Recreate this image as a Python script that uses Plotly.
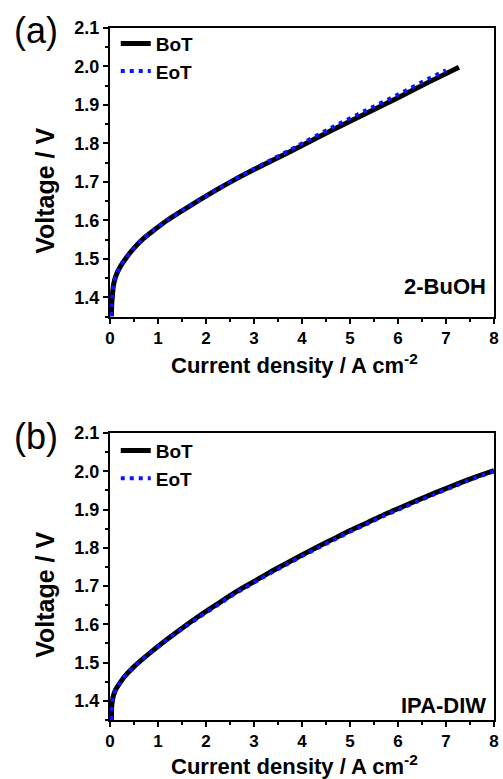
import plotly.graph_objects as go

# Panel (a) 2-BuOH
a_bot_x = [0.03, 0.035, 0.05, 0.07, 0.12, 0.21, 0.35, 0.5, 0.7, 0.9, 1.2, 1.5, 1.85, 2.2, 2.6, 3.0, 3.4, 3.9, 4.6, 5.3, 6.0, 6.65, 7.27]
a_bot_v = [1.35, 1.38, 1.405, 1.43, 1.455, 1.479, 1.505, 1.528, 1.553, 1.573, 1.601, 1.625, 1.652, 1.678, 1.706, 1.732, 1.757, 1.788, 1.833, 1.876, 1.919, 1.960, 1.998]
a_eot_x = [0.03, 0.035, 0.05, 0.07, 0.12, 0.21, 0.35, 0.5, 0.7, 0.9, 1.2, 1.5, 1.85, 2.2, 2.6, 3.0, 3.4, 3.9, 4.6, 5.3, 6.0, 6.65, 7.0]
a_eot_v = [1.35, 1.38, 1.405, 1.43, 1.455, 1.479, 1.505, 1.528, 1.553, 1.573, 1.601, 1.625, 1.652, 1.678, 1.707, 1.734, 1.760, 1.793, 1.840, 1.884, 1.927, 1.969, 1.990]

# Panel (b) IPA-DIW
b_bot_x = [0.03, 0.035, 0.05, 0.07, 0.12, 0.17, 0.3, 0.48, 0.82, 1.17, 1.5, 1.85, 2.2, 2.64, 3.0, 3.33, 3.7, 4.01, 4.35, 4.7, 5.0, 5.38, 5.7, 6.07, 6.4, 6.76, 7.1, 7.44, 7.7, 8.0]
b_bot_v = [1.35, 1.385, 1.40, 1.413, 1.430, 1.440, 1.463, 1.487, 1.524, 1.559, 1.590, 1.621, 1.650, 1.686, 1.712, 1.736, 1.761, 1.782, 1.804, 1.826, 1.845, 1.867, 1.886, 1.906, 1.924, 1.943, 1.960, 1.977, 1.989, 2.002]
b_eot_x = [0.03, 0.035, 0.05, 0.07, 0.12, 0.17, 0.3, 0.48, 0.82, 1.17, 1.5, 1.85, 2.2, 2.64, 3.0, 3.33, 3.7, 4.01, 4.35, 4.7, 5.0, 5.38, 5.7, 6.07, 6.4, 6.76, 7.1, 7.44, 7.7, 8.0]
b_eot_v = [1.35, 1.385, 1.40, 1.413, 1.430, 1.440, 1.463, 1.487, 1.524, 1.558, 1.588, 1.618, 1.647, 1.683, 1.709, 1.733, 1.758, 1.779, 1.801, 1.823, 1.842, 1.864, 1.883, 1.903, 1.921, 1.940, 1.957, 1.975, 1.987, 2.0]

x_ticks = [0, 1, 2, 3, 4, 5, 6, 7, 8]
y_ticks = [1.4, 1.5, 1.6, 1.7, 1.8, 1.9, 2.0, 2.1]
y_ticklabels = ["1.4", "1.5", "1.6", "1.7", "1.8", "1.9", "2.0", "2.1"]

FONT = "Liberation Sans, Arial, sans-serif"
fig = go.Figure()

def add_panel(bx, bv, ex, ev, xa, ya, leg):
    fig.add_trace(go.Scatter(x=bx, y=bv, mode="lines", name="BoT",
                             line=dict(color="black", width=5, shape="spline", smoothing=0.6),
                             xaxis=xa, yaxis=ya, legend=leg))
    fig.add_trace(go.Scatter(x=ex, y=ev, mode="lines", name="EoT",
                             line=dict(color="#0a14ff", width=4, dash="4px,5px", shape="spline", smoothing=0.6),
                             xaxis=xa, yaxis=ya, legend=leg))

add_panel(a_bot_x, a_bot_v, a_eot_x, a_eot_v, "x", "y", "legend")
add_panel(b_bot_x, b_bot_v, b_eot_x, b_eot_v, "x2", "y2", "legend2")

axis_common = dict(showline=True, linecolor="black", linewidth=2, mirror=True,
                   ticks="outside", ticklen=5, tickwidth=2, tickcolor="black",
                   showgrid=False, zeroline=False,
                   tickfont=dict(family=FONT, size=18, color="black", weight="bold"))

xa = dict(axis_common, range=[0, 8], tickvals=x_ticks,
          tickfont=dict(family=FONT, size=17, color="black", weight="bold"),
          minor=dict(dtick=0.5, ticks="outside", ticklen=3, tickwidth=2, tickcolor="black"))
ya = dict(axis_common, range=[1.35, 2.1], tickvals=y_ticks, ticktext=y_ticklabels,
          minor=dict(tick0=1.35, dtick=0.05, ticks="outside", ticklen=3, tickwidth=2, tickcolor="black"))

legend_common = dict(x=0.015, xanchor="left", yanchor="top", bgcolor="rgba(0,0,0,0)",
                     font=dict(family=FONT, size=19, color="black", weight="bold"),
                     itemwidth=30, tracegroupgap=0)

title_font = dict(family=FONT, size=22, color="black", weight="bold")
ytitle_font = dict(family=FONT, size=25, color="black", weight="bold")
lab_font = dict(family=FONT, size=22, color="black", weight="bold")

fig.update_layout(
    width=503, height=779,
    margin=dict(l=110, r=4, t=28, b=59),
    plot_bgcolor="white", paper_bgcolor="white",
    xaxis=dict(xa, domain=[0, 1], anchor="y"),
    yaxis=dict(ya, domain=[0.583, 1.0], anchor="x"),
    xaxis2=dict(xa, domain=[0, 1], anchor="y2"),
    yaxis2=dict(ya, domain=[0.0, 0.4147], anchor="x2"),
    legend=dict(legend_common, y=1.005),
    legend2=dict(legend_common, y=0.4167),
    annotations=[
        dict(text="2-BuOH", x=0.985, y=0.6055, xref="paper", yref="paper", xanchor="right", yanchor="bottom",
             showarrow=False, font=lab_font),
        dict(text="IPA-DIW", x=0.985, y=0.0, xref="paper", yref="paper", xanchor="right", yanchor="bottom",
             showarrow=False, font=lab_font),
        dict(text="(a)", x=-0.255, y=0.9965, xref="paper", yref="paper", xanchor="left", yanchor="middle",
             showarrow=False, font=dict(family=FONT, size=36, color="black")),
        dict(text="(b)", x=-0.255, y=0.409, xref="paper", yref="paper", xanchor="left", yanchor="middle",
             showarrow=False, font=dict(family=FONT, size=36, color="black")),
        dict(text="Voltage / V", textangle=-90, x=-0.1697, y=0.7645, xref="paper", yref="paper",
             xanchor="center", yanchor="middle", showarrow=False, font=ytitle_font),
        dict(text="Voltage / V", textangle=-90, x=-0.1697, y=0.1806, xref="paper", yref="paper",
             xanchor="center", yanchor="middle", showarrow=False, font=ytitle_font),
        dict(text="Current density / A cm<sup>-2</sup>", x=0.4807, y=0.515, xref="paper", yref="paper",
             xanchor="center", yanchor="middle", showarrow=False, font=title_font),
        dict(text="Current density / A cm<sup>-2</sup>", x=0.4807, y=-0.0645, xref="paper", yref="paper",
             xanchor="center", yanchor="middle", showarrow=False, font=title_font),
    ],
)

fig.write_html("out.html")
